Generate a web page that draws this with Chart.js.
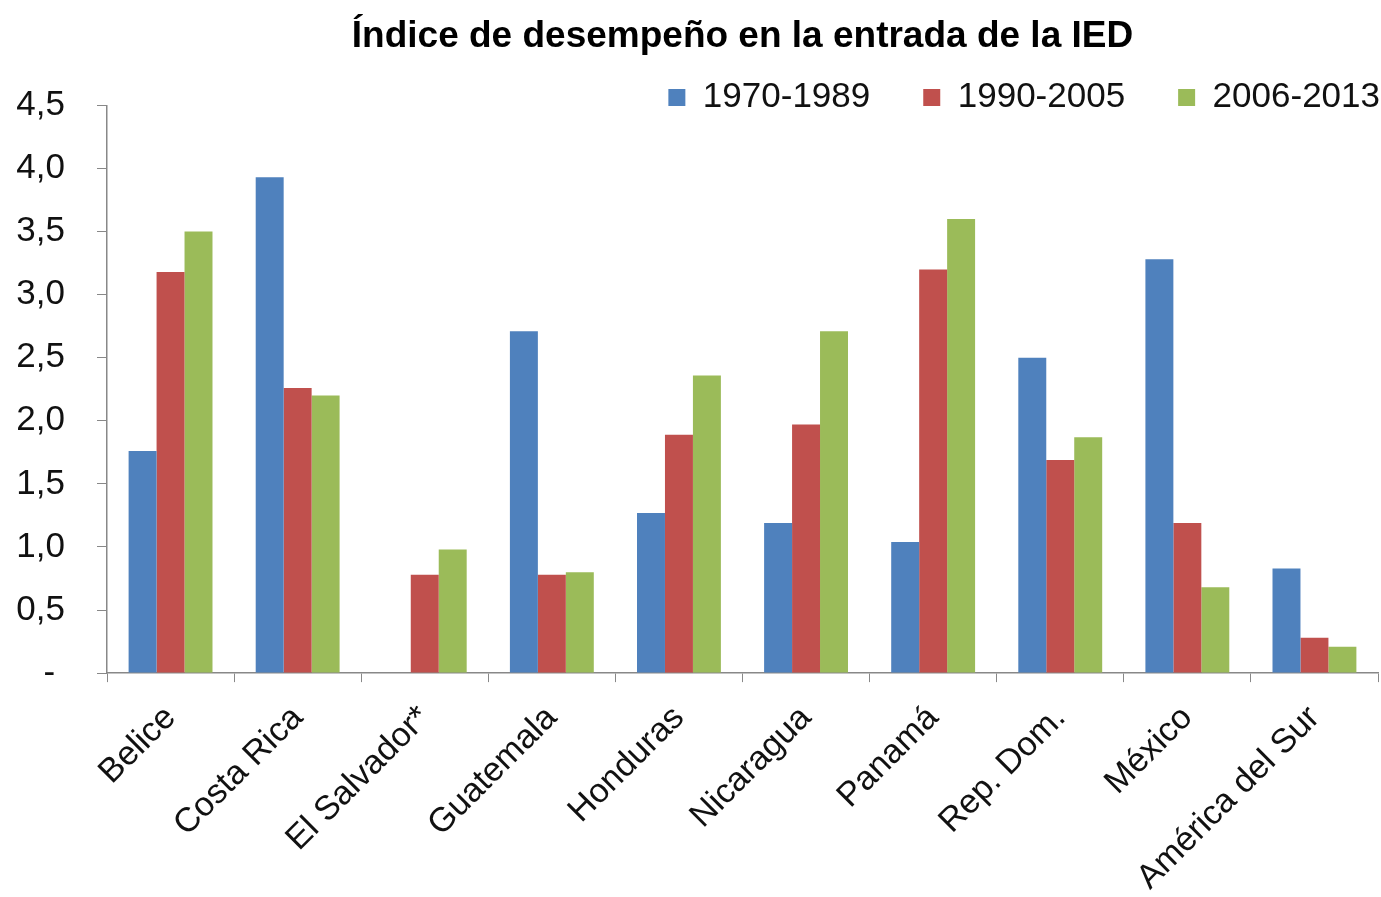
<!DOCTYPE html>
<html>
<head>
<meta charset="utf-8">
<script src="https://cdn.jsdelivr.net/npm/chart.js@4"></script>
<style>
  html, body { margin: 0; padding: 0; background: #fff; }
  #wrap { width: 1381px; height: 897px; }
</style>
</head>
<body>
<div id="wrap"><canvas id="myChart"></canvas></div>
<script>
const labels = ["Belice", "Costa Rica", "El Salvador*", "Guatemala", "Honduras", "Nicaragua", "Panamá", "Rep. Dom.", "México", "América del Sur"];
const seriesNames = ["1970-1989", "1990-2005", "2006-2013"];
const values1970 = [1.76, 3.93, 0, 2.71, 1.27, 1.19, 1.04, 2.50, 3.28, 0.83];
const values1990 = [3.18, 2.26, 0.78, 0.78, 1.89, 1.97, 3.20, 1.69, 1.19, 0.28];
const values2006 = [3.50, 2.20, 0.98, 0.80, 2.36, 2.71, 3.60, 1.87, 0.68, 0.21];
const colors = ["#4F81BD", "#C0504D", "#9BBB59"];

// legend takes no layout space; it is placed by hand over the plot's top margin
const LEGEND_TOP = 27;
const LEGEND_SHIFT = 55;
const legendPlace = {
  id: "legendPlace",
  beforeInit(chart) {
    const fit = chart.legend.fit;
    chart.legend.fit = function () {
      fit.bind(chart.legend)();
      this.height = 0;
    };
  },
  afterLayout(chart) {
    const lg = chart.legend;
    lg.top = LEGEND_TOP;
    lg.bottom = LEGEND_TOP + 150;
    lg.left += LEGEND_SHIFT;
    lg.right += LEGEND_SHIFT;
  }
};

const ctx = document.getElementById("myChart").getContext("2d");
Chart.defaults.font.family = "'Liberation Sans', Arial, sans-serif";
Chart.defaults.color = "#222";

new Chart(ctx, {
  type: "bar",
  data: {
    labels,
    datasets: [values1970, values1990, values2006].map((vals, i) => {
      return {
        label: seriesNames[i],
        data: vals,
        backgroundColor: colors[i],
        borderWidth: 0,
        barPercentage: 1,
        categoryPercentage: 0.66
      };
    })
  },
  options: {
    responsive: true,
    maintainAspectRatio: false,
    animation: false,
    layout: { padding: { left: 0, right: 3, top: 0, bottom: 0 } },
    plugins: {
      title: {
        display: true,
        text: "Índice de desempeño en la entrada de la IED",
        color: "#000",
        fullSize: false,
        font: { weight: "bold", size: 37 },
        padding: { top: 15, bottom: 46 }
      },
      legend: {
        position: "top",
        align: "end",
        fullSize: false,
        labels: {
          color: "#111",
          boxWidth: 17,
          boxHeight: 17,
          padding: 53,
          font: { size: 35 }
        }
      },
      tooltip: { enabled: false }
    },
    scales: {
      x: {
        afterFit: function (scale) {
          scale.height -= 17;
        },
        grid: { drawOnChartArea: false, offset: true, tickLength: 9, color: "#888" },
        border: { color: "#888", width: 1.5 },
        ticks: {
          color: "#111",
          maxRotation: 45,
          minRotation: 45,
          font: { size: 34 },
          padding: 16
        }
      },
      y: {
        min: 0,
        max: 4.5,
        afterFit: function (scale) {
          scale.width = 107;
        },
        grid: { drawOnChartArea: false, tickLength: 10, color: "#888" },
        border: { color: "#888", width: 1.5 },
        ticks: {
          stepSize: 0.5,
          color: "#111",
          font: { size: 35 },
          padding: 32,
          callback: function (value) {
            if (value === 0) return "- ";
            return value.toFixed(1).replace(".", ",");
          }
        }
      }
    }
  },
  plugins: [legendPlace]
});
</script>
</body>
</html>
